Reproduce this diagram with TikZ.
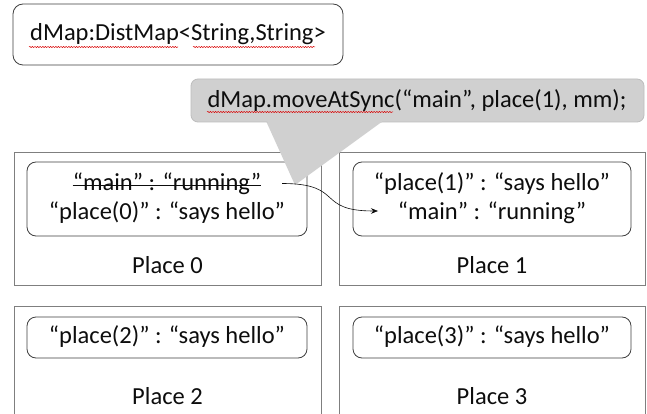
\documentclass[tikz,border=0pt]{standalone}
\usepackage{fontspec}
\setmainfont{Carlito}
\usetikzlibrary{decorations.pathmorphing,arrows.meta}
\definecolor{boxgray}{HTML}{7F7F7F}
\definecolor{entrydraw}{HTML}{404040}
\definecolor{calloutfill}{HTML}{D0D0D0}
\definecolor{calloutdraw}{HTML}{BDBDBD}
\definecolor{txt}{HTML}{0D0D0D}
\begin{document}
\begin{tikzpicture}[x=1pt,y=-1pt,
  font=\fontsize{24.5}{29}\selectfont,
  place/.style={draw=boxgray, line width=0.9pt, inner sep=0pt},
  entry/.style={draw=entrydraw, rounded corners=9pt, line width=0.8pt, inner sep=0pt},
  topbox/.style={draw=entrydraw, rounded corners=10pt, line width=0.8pt, inner sep=0pt},
  callout/.style={draw=calloutdraw, fill=calloutfill, rounded corners=7pt, line width=0.8pt, inner sep=0pt},
  lbl/.style={inner sep=0pt, text=txt, anchor=base},
  strike/.style={draw=txt, line width=1.1pt},
  squiggle/.style={draw=red!85!black, line width=0.5pt, decorate,
    decoration={snake, amplitude=0.6pt, segment length=2.6pt}},
  arr/.style={-{Stealth[length=7pt,width=5.5pt]}, line width=0.6pt, draw=txt}]
\clip (0,0) rectangle (647,414);
\fill[white] (0,0) rectangle (647,414);

% top box
\node[topbox, minimum width=330, minimum height=61] (dmapbox) at (178,34.5) {};
\node[lbl] (dmaptext) at (178,41) {dMap:DistMap<String,String>};
\draw[squiggle] (29,47) -- (178,47);
\draw[squiggle] (193,47) -- (315,47);

% place boxes
\node[place, minimum width=307, minimum height=133] (P0) at (167.5,218.5) {};
\node[place, minimum width=306, minimum height=133] (P1) at (492,218.5) {};
\node[place, minimum width=307, minimum height=134] (P2) at (167.5,373) {};
\node[place, minimum width=306, minimum height=134] (P3) at (492,373) {};

% entry boxes
\node[entry, minimum width=280, minimum height=74] (E0) at (167,199) {};
\node[entry, minimum width=278, minimum height=74] (E1) at (492,199) {};
\node[entry, minimum width=280, minimum height=41] (E2) at (167,337.5) {};
\node[entry, minimum width=278, minimum height=41] (E3) at (492,337.5) {};

% entries
\node[lbl] (p0a) at (167,190) {“main” : “running”};
\draw[strike] ([yshift=4.5pt]p0a.base west) -- ([yshift=4.5pt]p0a.base east);
\node[lbl] (p0b) at (167,219) {“place(0)” : “says hello”};
\node[lbl] (p1a) at (492,190) {“place(1)” : “says hello”};
\node[lbl] (p1b) at (492,219) {“main” : “running”};
\node[lbl] (p2a) at (167,343) {“place(2)” : “says hello”};
\node[lbl] (p3a) at (492,343) {“place(3)” : “says hello”};

% place labels
\node[lbl] (L0) at (167.5,273) {Place 0};
\node[lbl] (L1) at (492,273) {Place 1};
\node[lbl] (L2) at (167.5,404) {Place 2};
\node[lbl] (L3) at (492,404) {Place 3};

% callout
\fill[calloutfill] (266,121) -- (383,121) -- (295,185) -- cycle;
\node[callout, minimum width=453, minimum height=43] (call) at (417.5,100.5) {};
\fill[calloutfill] (267,121) -- (382,121) -- (381,123) -- (268,123) -- cycle;
\node[lbl] (calltext) at (417,108) {dMap.moveAtSync(“main”, place(1), mm);};
\draw[squiggle] (207,112) -- (393,112);

% move arrow
\coordinate (mvS) at (282,183.5);
\coordinate (mvE) at (378,211);
\draw[arr] (mvS) .. controls (345,183.5) and (315,211) .. (mvE);
\end{tikzpicture}
\end{document}
